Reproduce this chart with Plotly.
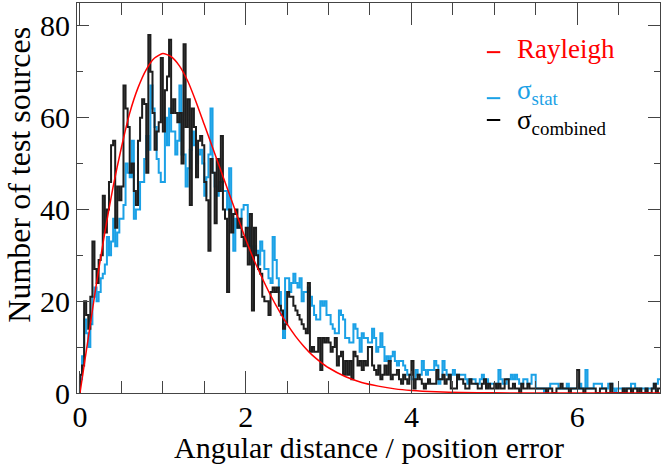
import numpy as np
import plotly.graph_objects as go

# histogram bin width (angular distance / position error)
bin_width = 0.025

# counts per bin, sigma_combined (black)
combined_counts = [
    4, 6, 20, 17, 14, 21, 33, 27, 24, 29,
    30, 43, 35, 40, 46, 54, 55, 36, 45, 42,
    45, 67, 62, 58, 48, 50, 44, 41, 55, 60,
    64, 63, 48, 78, 70, 61, 53, 57, 59, 73,
    57, 66, 69, 77, 61, 64, 61, 59, 61, 50,
    76, 58, 64, 41, 62, 58, 47, 55, 56, 54,
    46, 42, 31, 51, 48, 37, 51, 44, 56, 40,
    38, 22, 40, 35, 39, 40, 36, 38, 34, 32,
    36, 28, 39, 18, 36, 30, 27, 26, 21, 20,
    20, 17, 22, 23, 22, 23, 19, 18, 14, 15,
    22, 21, 21, 19, 18, 17, 16, 15, 14, 13,
    24, 9, 10, 9, 9, 12, 5, 12, 11, 12,
    11, 9, 10, 12, 6, 8, 9, 4, 7, 4,
    7, 3, 9, 8, 6, 7, 5, 7, 6, 10,
    10, 6, 5, 4, 6, 3, 4, 6, 4, 7,
    3, 4, 4, 5, 3, 2, 4, 3, 2, 4,
    7, 1, 3, 4, 3, 2, 1, 2, 3, 2,
    2, 2, 5, 3, 3, 4, 2, 3, 4, 1,
    1, 1, 4, 3, 3, 2, 1, 1, 3, 2,
    2, 2, 1, 1, 2, 3, 1, 2, 1, 1,
    2, 1, 2, 1, 1, 3, 3, 1, 1, 2,
    1, 1, 0, 2, 1, 1, 2, 1, 1, 1,
    1, 1, 1, 1, 1, 0, 1, 1, 0, 0,
    1, 1, 2, 1, 1, 1, 0, 1, 1, 1,
    5, 1, 1, 0, 1, 1, 1, 1, 1, 0,
    0, 1, 1, 1, 0, 0, 2, 0, 0, 0,
    0, 0, 1, 0, 1, 1, 0, 1, 1, 0,
    1, 0, 0, 1, 0, 0, 1, 2, 0, 1,
]

# counts per bin, sigma_stat (blue)
stat_counts = [
    3, 8, 16, 13, 10, 15, 21, 23, 20, 22,
    25, 26, 28, 34, 30, 33, 38, 32, 35, 38,
    38, 41, 50, 48, 47, 55, 38, 40, 40, 46,
    46, 51, 56, 53, 67, 62, 58, 51, 48, 46,
    46, 60, 54, 62, 57, 57, 52, 55, 67, 52,
    52, 45, 49, 53, 57, 54, 50, 52, 53, 50,
    43, 47, 52, 62, 48, 45, 43, 46, 46, 44,
    44, 40, 49, 39, 31, 38, 36, 38, 40, 41,
    41, 36, 32, 30, 32, 31, 28, 33, 31, 27,
    27, 25, 24, 34, 29, 25, 22, 17, 12, 25,
    25, 22, 24, 26, 24, 23, 25, 20, 22, 22,
    23, 21, 19, 17, 16, 16, 20, 19, 20, 17,
    17, 15, 14, 13, 13, 18, 17, 16, 12, 12,
    11, 11, 15, 14, 12, 9, 13, 12, 12, 11,
    11, 14, 12, 9, 10, 13, 10, 7, 8, 7,
    8, 9, 7, 6, 7, 7, 6, 5, 4, 4,
    3, 3, 5, 4, 4, 7, 5, 4, 5, 5,
    5, 7, 6, 2, 3, 7, 5, 4, 3, 4,
    5, 4, 3, 4, 4, 4, 3, 2, 3, 3,
    3, 2, 2, 3, 4, 3, 3, 2, 2, 2,
    2, 2, 5, 3, 2, 2, 3, 3, 4, 3,
    4, 3, 2, 2, 3, 3, 2, 2, 4, 4,
    1, 1, 1, 1, 0, 1, 1, 2, 2, 2,
    2, 1, 1, 1, 1, 2, 1, 1, 1, 1,
    1, 2, 1, 1, 5, 1, 1, 1, 2, 2,
    2, 2, 1, 1, 1, 2, 2, 1, 0, 1,
    1, 1, 0, 1, 1, 1, 2, 2, 1, 1,
    1, 1, 1, 0, 1, 1, 1, 2, 2, 3,
]

# Rayleigh curve
rayleigh_x = [0.0, 0.1, 0.2, 0.3, 0.4, 0.5, 0.6, 0.7, 0.8, 0.9,
              1.0, 1.1, 1.2, 1.3, 1.4, 1.5, 1.6, 1.7, 1.8, 1.9,
              2.0, 2.1, 2.2, 2.3, 2.4, 2.5, 2.6, 2.7, 2.8, 2.9,
              3.0, 3.2, 3.4, 3.6, 3.8, 4.0, 4.3, 4.6, 5.0, 5.5, 6.0, 7.0]
rayleigh_y = [0, 12, 24, 35, 45, 53.5, 61, 66.5, 70.5, 73,
              74, 73.3, 71.3, 68, 63.5, 58.5, 53.5, 48.5, 43.5, 38.5,
              33.5, 29, 25, 21.3, 18, 15, 12.4, 10.2, 8.3, 6.8,
              5.5, 3.6, 2.3, 1.5, 0.9, 0.55, 0.25, 0.1, 0.03, 0, 0, 0]

BLUE = '#1ba1e6'
BLACK = '#1e1e1e'
FONT = 'Liberation Serif, Times New Roman, serif'


def step_xy(counts):
    edges = np.arange(len(counts) + 1) * bin_width
    x = np.concatenate([[0.0], edges])
    y = np.concatenate([[0], counts, [counts[-1]]])
    return x, y


fig = go.Figure()

x, y = step_xy(stat_counts)
fig.add_trace(go.Scatter(x=x, y=y, mode='lines', line_shape='hv',
                         line=dict(color=BLUE, width=2)))
x, y = step_xy(combined_counts)
fig.add_trace(go.Scatter(x=x, y=y, mode='lines', line_shape='hv',
                         line=dict(color=BLACK, width=2)))
fig.add_trace(go.Scatter(x=rayleigh_x, y=rayleigh_y, mode='lines',
                         line=dict(color='#ff0000', width=1.5, shape='spline', smoothing=0.6)))

axis_common = dict(showline=True, linecolor='#444', linewidth=1.2, mirror='ticks',
                   ticks='inside', tickcolor='#444', tickwidth=1.2,
                   showgrid=False, zeroline=False,
                   tickfont=dict(family=FONT, size=30, color='black'))

fig.update_xaxes(range=[-0.036, 7.0], dtick=2, tick0=0, ticklen=22, ticklabelstandoff=-3,
                 minor=dict(ticks='inside', dtick=0.5, ticklen=12, tickcolor='#444', tickwidth=1.2),
                 **axis_common)
fig.update_yaxes(range=[0, 85], dtick=20, tick0=0, ticklen=12,
                 minor=dict(ticks='inside', dtick=10, ticklen=6, tickcolor='#444', tickwidth=1.2),
                 **axis_common)

# legend drawn by hand
legend = [
    ('Rayleigh', '#ff0000', 0.882, 0.874),
    ('σ<sub>stat</sub>', BLUE, 0.773, 0.756),
    ('σ<sub>combined</sub>', 'black', 0.696, 0.700),
]
for text, color, ty, ly in legend:
    fig.add_annotation(xref='paper', yref='paper', x=0.751, y=ty, text=text,
                       showarrow=False, xanchor='left', yanchor='middle',
                       font=dict(family=FONT, size=27, color=color))
    fig.add_shape(type='line', xref='paper', yref='paper', x0=0.703, x1=0.726,
                  y0=ly, y1=ly, line=dict(color=color, width=2))

fig.add_annotation(xref='paper', yref='paper', x=0.5, y=-0.141,
                   text='Angular distance / position error', showarrow=False,
                   xanchor='center', yanchor='middle',
                   font=dict(family=FONT, size=30, color='black'))
fig.add_annotation(xref='paper', yref='paper', x=-0.101, y=0.56,
                   text='Number of test sources', showarrow=False, textangle=-90,
                   xanchor='center', yanchor='middle',
                   font=dict(family=FONT, size=32, color='black'))

fig.update_layout(width=664, height=464, showlegend=False,
                  plot_bgcolor='white', paper_bgcolor='white',
                  margin=dict(l=77, r=4, t=3, b=71))

fig.write_html("out.html", config={'displayModeBar': False},
               post_script="document.body.style.margin='0';")
